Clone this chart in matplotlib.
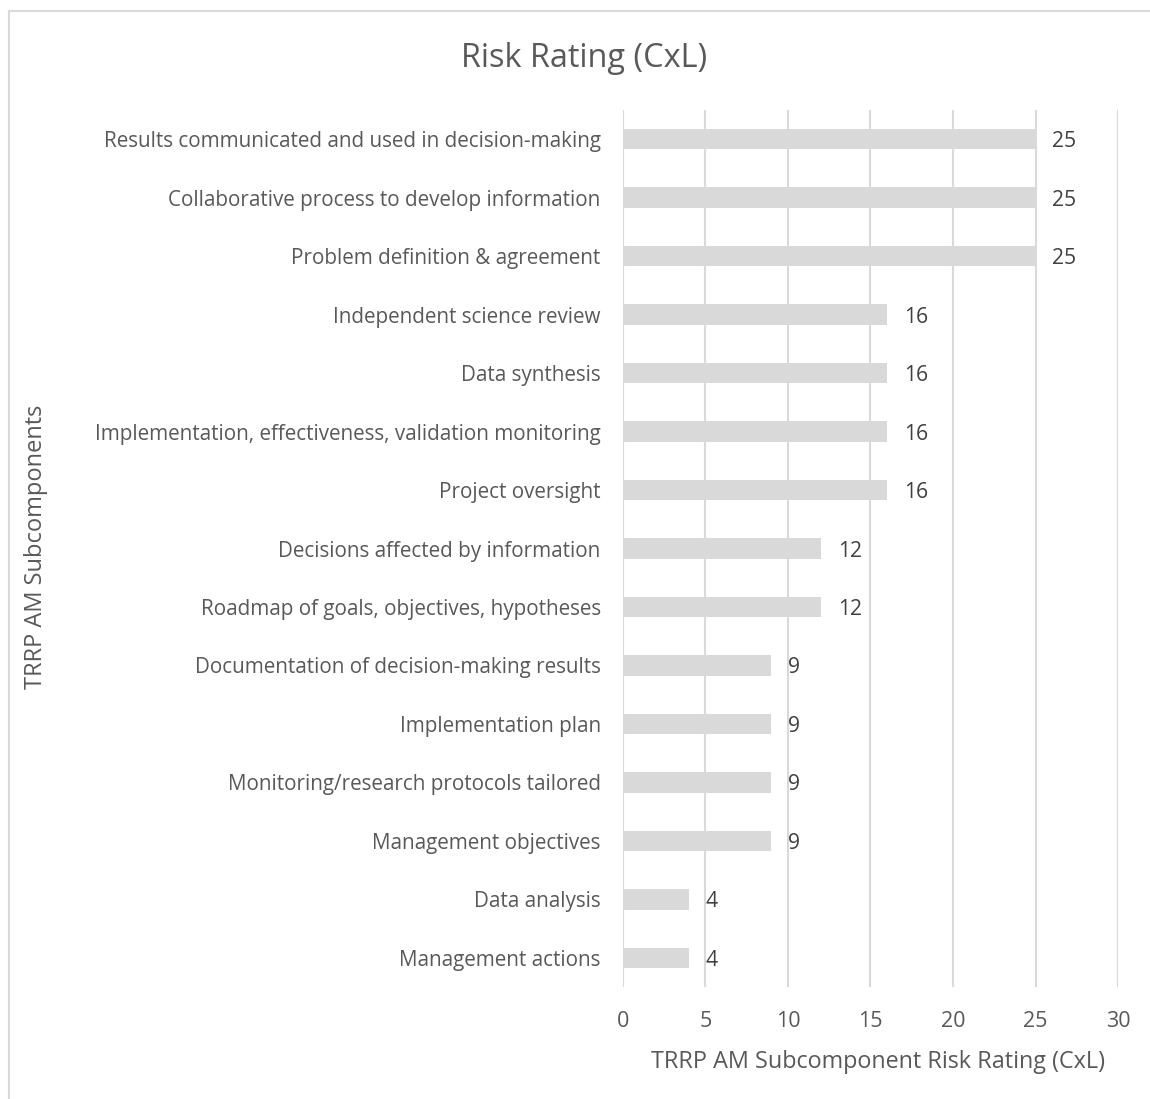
import matplotlib
matplotlib.use("Agg")
import matplotlib.pyplot as plt
from matplotlib.lines import Line2D

plt.rcParams['font.family'] = ['Open Sans', 'DejaVu Sans']

categories = [
    "Results communicated and used in decision-making",
    "Collaborative process to develop information",
    "Problem definition & agreement",
    "Independent science review",
    "Data synthesis",
    "Implementation, effectiveness, validation monitoring",
    "Project oversight",
    "Decisions affected by information",
    "Roadmap of goals, objectives, hypotheses",
    "Documentation of decision-making results",
    "Implementation plan",
    "Monitoring/research protocols tailored",
    "Management objectives",
    "Data analysis",
    "Management actions",
]
values = [25, 25, 25, 16, 16, 16, 16, 12, 12, 9, 9, 9, 9, 4, 4]
xticks = [0, 5, 10, 15, 20, 25, 30]

title = "Risk Rating (CxL)"
xlabel = "TRRP AM Subcomponent Risk Rating (CxL)"
ylabel = "TRRP AM Subcomponents"

text_color = "#595959"
grid_color = "#d9d9d9"
bar_color = "#d9d9d9"

fig = plt.figure(figsize=(11.5, 10.99), dpi=100)
ax = fig.add_axes([0.5417, 0.1019, 0.9722 - 0.5417, 0.8999 - 0.1019])

n = len(categories)
ypos = list(range(n))[::-1]
ax.barh(ypos, values, height=0.35, color=bar_color, zorder=2)
ax.set_ylim(-0.5, n - 0.5)
ax.set_xlim(0, 30)
ax.set_xticks(xticks)
ax.set_xticklabels([str(t) for t in xticks], fontsize=15.5, color=text_color)
ax.set_yticks(ypos)
ax.set_yticklabels(categories, fontsize=14.85, color=text_color)
ax.tick_params(axis='both', length=0)
ax.tick_params(axis='y', pad=16)
ax.tick_params(axis='x', pad=17)
ax.xaxis.grid(True, color=grid_color, linewidth=1.5, zorder=0)
ax.set_axisbelow(True)
for s in ax.spines.values():
    s.set_visible(False)

for y, v in zip(ypos, values):
    ax.annotate(str(v), xy=(v, y), xytext=(12, 0), textcoords='offset points',
                va='center_baseline', ha='left', fontsize=15.2, color="#404040")

ax.set_xlabel(xlabel, fontsize=16.8, color=text_color)
ax.xaxis.set_label_coords(0.515, -0.072)
fig.text(0.031, 0.502, ylabel, rotation=90, fontsize=17, color=text_color,
         ha='center', va='center')
fig.text(0.508, 0.947, title, fontsize=23.4, color=text_color, ha='center', va='center')

# chart border (left and top visible)
fig.add_artist(Line2D([8.5 / 1150, 8.5 / 1150], [0, 1 - 10.5 / 1099],
                      transform=fig.transFigure, color=grid_color, linewidth=1.5))
fig.add_artist(Line2D([8.5 / 1150, 1], [1 - 10.5 / 1099, 1 - 10.5 / 1099],
                      transform=fig.transFigure, color=grid_color, linewidth=1.5))

fig.savefig("out.png", dpi=100)
